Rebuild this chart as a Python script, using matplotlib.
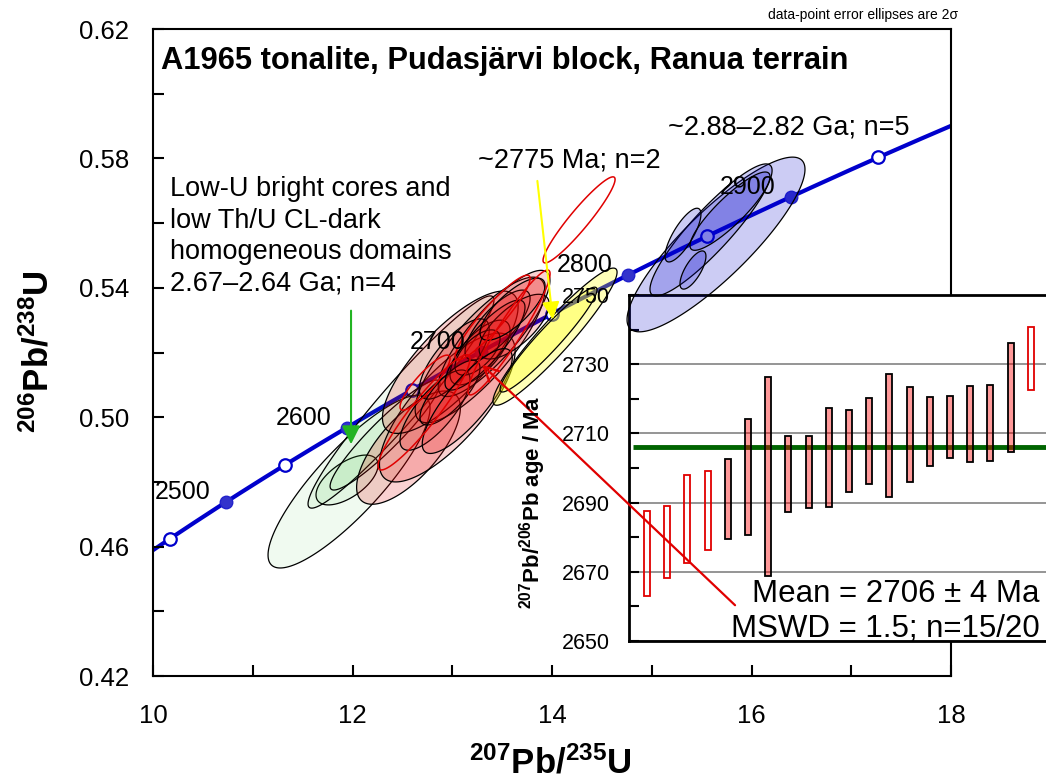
import numpy as np
import matplotlib
matplotlib.use("Agg")
import matplotlib.pyplot as plt
from matplotlib.patches import Polygon
from matplotlib.ticker import MultipleLocator, FormatStrFormatter

plt.rcParams['font.family'] = ['Liberation Sans', 'DejaVu Sans']
plt.rcParams['mathtext.fontset'] = 'custom'
plt.rcParams['mathtext.rm'] = 'Liberation Sans'
plt.rcParams['mathtext.bf'] = 'Liberation Sans:bold'
plt.rcParams['mathtext.it'] = 'Liberation Sans:italic'

# decay constants, 1/Ma
L238 = 1.55125e-4
L235 = 9.8485e-4

# concordia age marks (Ma)
open_ages = [2450, 2550, 2650, 2750, 2850, 2950]
filled_ages = [2500, 2600, 2700, 2800, 2900]
label_ages = [2500, 2600, 2700, 2800, 2900]

# error ellipses: 207Pb/235U, 2s, 206Pb/238U, 2s, rho
green_x = [11.965, 11.945, 12.486, 12.326]
green_sx = [0.812, 0.311, 0.932, 0.551]
green_y = [0.4801, 0.4806, 0.5047, 0.4945]
green_sy = [0.0267, 0.0077, 0.0328, 0.0170]
green_rho = [0.85, 0.60, 0.96, 0.93]

red_x = [12.561, 12.950, 12.980, 13.278, 13.419, 13.020, 13.278, 13.454,
         12.827, 13.253, 13.620, 12.977, 13.328, 13.150, 13.604]
red_sx = [0.520, 0.680, 0.680, 0.650, 0.560, 0.351, 0.301, 0.326,
          0.351, 0.226, 0.351, 0.301, 0.401, 0.451, 0.326]
red_y = [0.4906, 0.5030, 0.5170, 0.5208, 0.5259, 0.5180, 0.5200, 0.5285,
         0.5022, 0.5200, 0.5280, 0.5076, 0.5223, 0.5050, 0.5334]
red_sy = [0.0175, 0.0230, 0.0220, 0.0225, 0.0195, 0.0124, 0.0100, 0.0108,
          0.0124, 0.0070, 0.0100, 0.0100, 0.0139, 0.0162, 0.0096]
red_rho = [0.70, 0.76, 0.78, 0.82, 0.84, 0.75, 0.68, 0.76,
           0.76, 0.62, 0.70, 0.76, 0.84, 0.82, 0.76]

# rejected analyses (outline only)
rej_x = [12.717, 13.569, 13.404, 12.727, 14.271]
rej_sx = [0.461, 0.411, 0.376, 0.251, 0.361]
rej_y = [0.5015, 0.5262, 0.5308, 0.5107, 0.5610]
rej_sy = [0.0178, 0.0193, 0.0131, 0.0085, 0.0133]
rej_rho = [0.93, 0.94, 0.92, 0.88, 0.94]

yellow_x = [14.030, 13.965]
yellow_sx = [0.622, 0.486]
yellow_y = [0.5249, 0.5240]
yellow_sy = [0.0212, 0.0162]
yellow_rho = [0.94, 0.95]

blue_x = [15.644, 15.594, 15.313, 15.413, 15.784]
blue_sx = [0.892, 0.612, 0.180, 0.130, 0.401]
blue_y = [0.5534, 0.5579, 0.5563, 0.5455, 0.5637]
blue_sy = [0.0270, 0.0204, 0.0083, 0.0059, 0.0121]
blue_rho = [0.86, 0.90, 0.78, 0.72, 0.88]

# weighted mean plot: 207Pb/206Pb ages, 2s box limits (Ma)
bar_lo = [2663.1, 2668.1, 2672.5, 2676.4, 2679.5, 2680.5, 2668.9, 2687.3, 2688.3, 2688.8,
          2693.1, 2695.5, 2691.7, 2696.0, 2700.6, 2702.8, 2701.7, 2701.9, 2704.7, 2722.5]
bar_hi = [2687.5, 2689.1, 2698.1, 2699.1, 2702.7, 2714.3, 2726.3, 2709.2, 2709.2, 2717.4,
          2716.9, 2720.3, 2727.1, 2723.5, 2720.6, 2720.9, 2723.8, 2724.0, 2736.2, 2740.6]
bar_used = [False, False, False, False] + [True] * 15 + [False]
mean_age = 2706


def conc(t):
    t = np.asarray(t, dtype=float)
    return np.exp(L235 * t) - 1, np.exp(L238 * t) - 1


def ellipse_pts(x, sx, y, sy, rho):
    t = np.linspace(0, 2 * np.pi, 200)
    px = x + sx * np.cos(t)
    py = y + sy * (rho * np.cos(t) + np.sqrt(1 - rho ** 2) * np.sin(t))
    return np.column_stack([px, py])


fig = plt.figure(figsize=(10.46, 7.82), dpi=100)
ax = fig.add_axes([0.1463, 0.1355, 0.7629, 0.8274])
ax_in = fig.add_axes([0.6013, 0.1803, 0.3987, 0.4425])

# concordia
tt = np.linspace(2300, 3100, 400)
cx, cy = conc(tt)
ax.plot(cx, cy, color='#0000cc', lw=3, zorder=1)
ox, oy = conc(open_ages)
ax.plot(ox, oy, 'o', ms=9, mfc='white', mec='#0000cc', mew=1.6, zorder=1)
fx, fy = conc(filled_ages)
ax.plot(fx, fy, 'o', ms=9, mfc='#3333cc', mec='#2222cc', mew=1, zorder=1)
lx, ly = conc(label_ages)
for a, x, y in zip(label_ages, lx, ly):
    ax.annotate(str(a), (x, y), xytext=(-11, 7), textcoords='offset points',
                ha='right', va='center', fontsize=18, zorder=5)

groups = [
    (green_x, green_sx, green_y, green_sy, green_rho, dict(fc=(0.2, 0.75, 0.2, 0.07), ec='black', lw=0.9)),
    (red_x, red_sx, red_y, red_sy, red_rho, dict(fc=(0.9, 0, 0, 0.18), ec='black', lw=0.9)),
    (rej_x, rej_sx, rej_y, rej_sy, rej_rho, dict(fc='none', ec='#e00000', lw=1.1)),
    (yellow_x, yellow_sx, yellow_y, yellow_sy, yellow_rho, dict(fc=(1, 1, 0, 0.28), ec='black', lw=0.9)),
    (blue_x, blue_sx, blue_y, blue_sy, blue_rho, dict(fc=(0, 0, 0.8, 0.2), ec='black', lw=0.9)),
]
for xs, sxs, ys, sys_, rhos, style in groups:
    for x, sx, y, sy, r in zip(xs, sxs, ys, sys_, rhos):
        pts = ellipse_pts(x, sx, y, sy, r)
        ax.add_patch(Polygon(pts, closed=True, zorder=2, **style))
        # part of the ellipse lying over the inset
        p2 = Polygon(pts, closed=True, zorder=6, transform=ax.transData, **style)
        ax_in.add_patch(p2)

ax.set_xlim(10, 18)
ax.set_ylim(0.42, 0.62)
ax.xaxis.set_major_locator(MultipleLocator(2))
ax.xaxis.set_minor_locator(MultipleLocator(1))
ax.yaxis.set_major_locator(MultipleLocator(0.04, offset=0.02))
ax.yaxis.set_minor_locator(MultipleLocator(0.02))
ax.yaxis.set_major_formatter(FormatStrFormatter('%.2f'))
ax.tick_params(which='both', direction='in', length=8, width=1.5)
ax.tick_params(axis='x', which='major', labelsize=18.5, pad=20)
ax.tick_params(axis='y', which='major', labelsize=18.5, pad=17)
for s in ax.spines.values():
    s.set_linewidth(1.5)

ax.text(0.01, 0.951, 'A1965 tonalite, Pudasjärvi block, Ranua terrain',
        transform=ax.transAxes, fontsize=22.2, fontweight='bold', va='center')
ax.text(10.17, 0.5745, 'Low-U bright cores and\nlow Th/U CL-dark\nhomogeneous domains\n2.67\u20132.64 Ga; n=4',
        fontsize=19.5, va='top', linespacing=1.27)
ax.text(13.26, 0.5795, '~2775 Ma; n=2', fontsize=19.5, va='center')
ax.text(15.16, 0.5895, '~2.88\u20132.82 Ga; n=5', fontsize=19.5, va='center')

ax.annotate('', xy=(11.985, 0.4908), xytext=(11.985, 0.5338),
            arrowprops=dict(arrowstyle='-|>', color='#22b422', lw=1.5, mutation_scale=28), zorder=7)
ax.annotate('', xy=(14.01, 0.5294), xytext=(13.85, 0.5739),
            arrowprops=dict(arrowstyle='-|>', color='#ffff00', lw=1.5, mutation_scale=26), zorder=7)

# inset: weighted mean
pos = np.arange(1, len(bar_lo) + 1)
lo = np.array(bar_lo)
hi = np.array(bar_hi)
used = np.array(bar_used)
ax_in.bar(pos[used], hi[used] - lo[used], bottom=lo[used], width=0.3,
          color=(1, 0, 0, 0.4), edgecolor='black', lw=1.3, zorder=3)
ax_in.bar(pos[~used], hi[~used] - lo[~used], bottom=lo[~used], width=0.3,
          color='none', edgecolor='#e00000', lw=1.3, zorder=3)
ax_in.hlines(mean_age, 0.3, 20.75, color='#006400', lw=3.5, zorder=2)
ax_in.set_xlim(0.11, 20.75)
ax_in.set_ylim(2650, 2750)
ax_in.set_xticks([])
ax_in.yaxis.set_major_locator(MultipleLocator(20, offset=10))
ax_in.yaxis.set_minor_locator(MultipleLocator(10))
ax_in.grid(axis='y', which='major', color='#8c8c8c', lw=1.3, zorder=0)
ax_in.set_axisbelow(True)
ax_in.tick_params(which='both', direction='in', length=7, width=1.5)
ax_in.tick_params(axis='y', which='major', labelsize=15.5, pad=14)
ax_in.spines['right'].set_visible(False)
for s in ['left', 'top', 'bottom']:
    ax_in.spines[s].set_linewidth(2)
ax_in.text(0.985, 0.135, 'Mean = 2706 \u00b1 4 Ma', transform=ax_in.transAxes,
           ha='right', va='center', fontsize=22.5, zorder=8)
ax_in.text(0.985, 0.035, 'MSWD = 1.5; n=15/20', transform=ax_in.transAxes,
           ha='right', va='center', fontsize=22.5, zorder=8)
ax_in.annotate('', xy=(13.278, 0.5168), xycoords=ax.transData,
               xytext=(15.855, 0.4413), textcoords=ax.transData,
               arrowprops=dict(arrowstyle='->', color='#e00000', lw=1.6, mutation_scale=26),
               annotation_clip=False, zorder=9)

fig.text(533 / 1046, 1 - 503 / 782, r'$\mathbf{^{207}Pb/^{206}Pb}$ age / Ma',
         rotation=90, ha='center', va='center', fontsize=16, fontweight='bold')
fig.text(38 / 1046, 1 - 352 / 782, r'$\mathbf{^{206}Pb/^{238}U}$',
         rotation=90, ha='center', va='center', fontsize=25)
fig.text(550 / 1046, 1 - 763 / 782, r'$\mathbf{^{207}Pb/^{235}U}$',
         ha='center', va='center', fontsize=25)
fig.text(958 / 1046, 1 - 15 / 782, 'data-point error ellipses are 2\u03c3',
         ha='right', va='center', fontsize=10)

fig.savefig('out.png', dpi=100)
